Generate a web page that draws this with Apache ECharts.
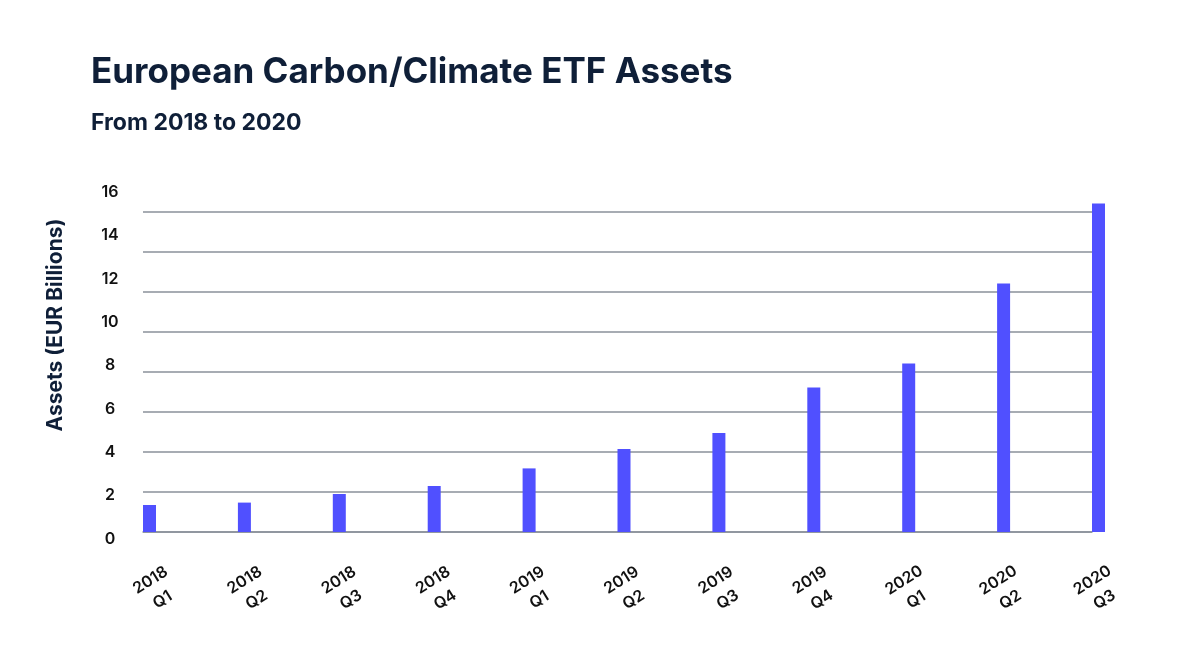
<!DOCTYPE html>
<html>
<head>
<meta charset="utf-8">
<script src="https://cdn.jsdelivr.net/npm/echarts@6/dist/echarts.min.js"></script>
<style>
  * { margin: 0; padding: 0; }
  body { background: #fff; }
  #chart { width: 1200px; height: 652px; }
</style>
</head>
<body>
<div id="chart"></div>
<script>
  // quarters on the x axis
  var quarters = ['2018 Q1', '2018 Q2', '2018 Q3', '2018 Q4',
                  '2019 Q1', '2019 Q2', '2019 Q3', '2019 Q4',
                  '2020 Q1', '2020 Q2', '2020 Q3'];
  // assets, EUR billions
  var assets = [1.35, 1.47, 1.9, 2.3, 3.18, 4.15, 4.95, 7.22, 8.43, 12.43, 16.42];
  var yMin = 0, yMax = 16, yStep = 2;

  var font = 'Inter, "Noto Sans", sans-serif';
  var navy = '#0f1f38';
  var gridGrey = '#8a909a';

  var chart = echarts.init(document.getElementById('chart'));
  chart.setOption({
    backgroundColor: '#fff',
    title: [{
      text: 'European Carbon/Climate ETF Assets',
      left: 91,
      top: 55,
      padding: 0,
      textStyle: { fontFamily: font, fontSize: 35, fontWeight: 700, color: navy }
    }, {
      text: 'From 2018 to 2020',
      left: 91,
      top: 112,
      padding: 0,
      textStyle: { fontFamily: font, fontSize: 23, fontWeight: 700, color: navy }
    }],
    grid: [
      { left: 143, top: 212, width: 949, height: 320 },   // bars + gridlines
      { left: 143, top: 192, width: 949, height: 347 },   // y tick labels
      { left: 156.5, top: 212, width: 942, height: 320 }  // x tick labels
    ],
    xAxis: [{
      gridIndex: 0,
      type: 'category',
      data: quarters,
      boundaryGap: false,
      axisLine: { show: true, lineStyle: { color: gridGrey, width: 1.5 } },
      axisTick: { show: false },
      axisLabel: { show: false }
    }, {
      gridIndex: 1,
      type: 'value',
      min: 0, max: 1,
      show: false
    }, {
      gridIndex: 2,
      type: 'category',
      data: quarters,
      boundaryGap: false,
      axisLine: { show: false },
      axisTick: { show: false },
      axisLabel: {
        interval: 0,
        rotate: 32,
        align: 'center',
        verticalAlign: 'middle',
        margin: 58,
        fontFamily: font,
        fontSize: 16,
        fontWeight: 600,
        lineHeight: 23,
        color: '#111',
        formatter: function (v) { return v.replace(' ', '\n'); }
      }
    }],
    yAxis: [{
      gridIndex: 0,
      type: 'value',
      min: yMin, max: yMax, interval: yStep,
      axisLine: { show: false },
      axisTick: { show: false },
      axisLabel: { show: false },
      splitLine: { lineStyle: { color: gridGrey, width: 1.5 } },
      name: 'Assets (EUR Billions)',
      nameLocation: 'middle',
      nameGap: 77,
      nameRotate: 90,
      nameTextStyle: {
        fontFamily: font, fontSize: 21, fontWeight: 700, color: navy,
        padding: [0, 0, 0, 94]
      }
    }, {
      gridIndex: 1,
      type: 'value',
      min: yMin, max: yMax, interval: yStep,
      axisLine: { show: false },
      axisTick: { show: false },
      splitLine: { show: false },
      axisLabel: {
        align: 'center',
        margin: 33,
        fontFamily: font,
        fontSize: 16,
        fontWeight: 600,
        color: '#111'
      }
    }, {
      gridIndex: 2,
      type: 'value',
      min: 0, max: 1,
      show: false
    }],
    series: [{
      // empty slot so the real bar sits just right of the tick
      type: 'bar',
      xAxisIndex: 0, yAxisIndex: 0,
      data: quarters.map(function () { return 0; }),
      barWidth: 13,
      barGap: '0%',
      silent: true,
      itemStyle: { color: 'rgba(0,0,0,0)' }
    }, {
      name: 'Assets',
      type: 'bar',
      xAxisIndex: 0, yAxisIndex: 0,
      data: assets,
      barWidth: 13,
      barGap: '0%',
      clip: false,
      itemStyle: { color: '#5050ff' }
    }]
  });
</script>
</body>
</html>
